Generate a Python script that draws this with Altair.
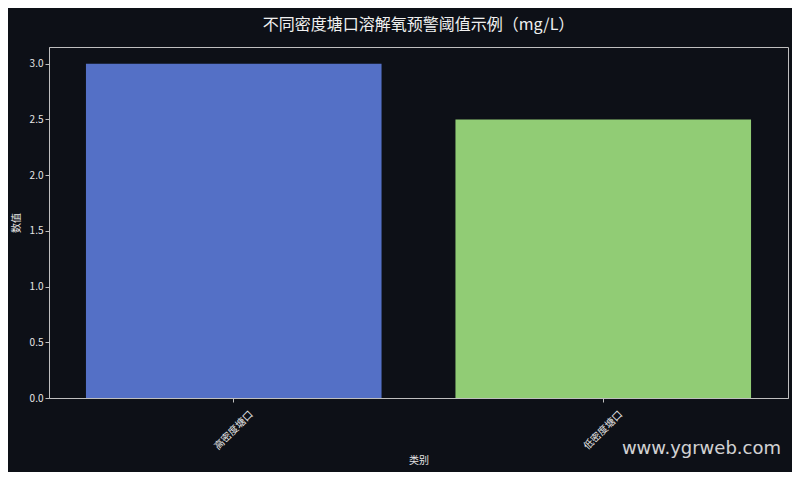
import altair as alt
import pandas as pd

categories = ["高密度塘口", "低密度塘口"]
values = [3.0, 2.5]
colors = ["#5470c6", "#91cc75"]

df = pd.DataFrame({"类别": categories, "数值": values})

font = "Noto Sans CJK SC"
bg = "#0d1017"
axis_col = "#bfbfbf"
text_col = "#e6e6e6"

bars = alt.Chart(df).mark_bar().encode(
    x=alt.X("类别:N", sort=categories,
            scale=alt.Scale(paddingInner=0.2, paddingOuter=0.1),
            axis=alt.Axis(title="类别", labelAngle=-45, labelAlign="center",
                          labelBaseline="middle", labelPadding=28,
                          titlePadding=4)),
    y=alt.Y("数值:Q", scale=alt.Scale(domain=[0, 3.15], nice=False),
            axis=alt.Axis(title="数值", values=[0, 0.5, 1.0, 1.5, 2.0, 2.5, 3.0],
                          format=".1f", titlePadding=8)),
    color=alt.Color("类别:N", scale=alt.Scale(domain=categories, range=colors), legend=None),
)

watermark = alt.Chart(pd.DataFrame({"t": ["www.ygrweb.com"]})).mark_text(
    align="right", baseline="middle", fontSize=18, font="DejaVu Sans",
    color="#e8e8e8", opacity=0.9
).encode(
    text="t:N",
    x=alt.value(732),
    y=alt.value(402),
)

chart = alt.layer(bars, watermark).properties(
    width=739, height=351,
    background=bg,
    padding={"left": 41, "top": 39, "right": 4, "bottom": 74},
    autosize=alt.AutoSizeParams(type="none"),
    title=alt.TitleParams("不同密度塘口溶解氧预警阈值示例（mg/L）", font="Noto Sans CJK TC", fontSize=16,
                          fontWeight="normal", color="#f0f0f0", anchor="middle", offset=14),
).configure_view(
    stroke=axis_col, strokeWidth=1, fill=bg
).configure_axis(
    domainColor=axis_col, tickColor=axis_col, labelColor=text_col, titleColor=text_col,
    labelFont=font, titleFont=font, labelFontSize=10, titleFontSize=10,
    titleFontWeight="normal", grid=False, tickSize=4
)

chart.save("out.html", embed_options={"renderer": "svg", "actions": False})
